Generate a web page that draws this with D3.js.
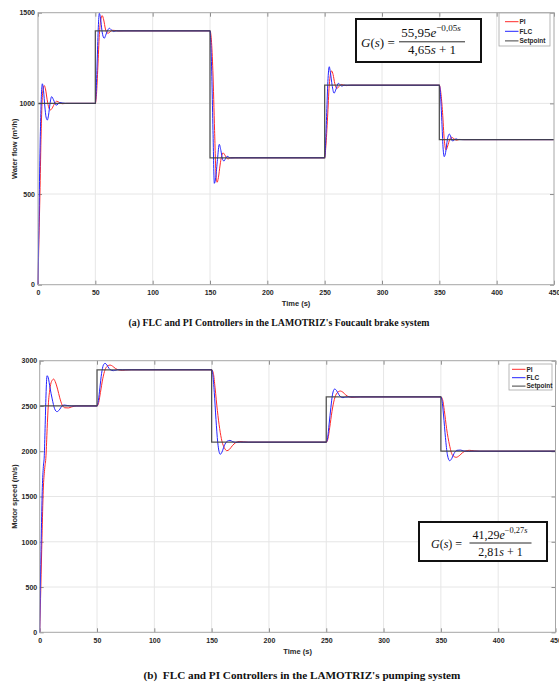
<!DOCTYPE html>
<html>
<head>
<meta charset="utf-8">
<script src="https://cdn.jsdelivr.net/npm/d3@7"></script>
<style>
  body { margin: 0; background: #fff; }
  svg { display: block; }
</style>
</head>
<body>
<script>
// ---- data ----
const timeTicks = [0, 50, 100, 150, 200, 250, 300, 350, 400, 450];
const flowTicks = [0, 500, 1000, 1500];
const speedTicks = [0, 500, 1000, 1500, 2000, 2500, 3000];

// (a) water flow, m3/h
const flowSetpoint = [[0, 1000], [50, 1400], [150, 700], [250, 1100], [350, 800], [450, 800]];
const flowPI = [
  [0, 0], [0.8, 250], [1.7, 500], [2.6, 800], [3.5, 1000], [4.5, 1080], [5.5, 1098], [6.5, 1080],
  [8, 1020], [9.5, 975], [11, 964], [12.5, 975], [14.5, 1000], [16.3, 1012], [18.5, 1005], [21, 998],
  [25, 1000], [50, 1000],
  [51, 1050], [52.2, 1200], [53.5, 1380], [54.7, 1460], [56, 1484], [57.3, 1460], [58.8, 1410],
  [60, 1390], [61.3, 1387], [63, 1395], [65, 1403], [67, 1402], [70, 1399], [75, 1400], [150, 1400],
  [151.2, 1350], [152.5, 1180], [154, 850], [155.3, 600], [156.2, 565], [157.3, 590], [158.8, 660],
  [160, 705], [161.3, 727], [163, 715], [164.5, 698], [166, 694], [168, 700], [175, 700], [250, 700],
  [251, 760], [252.5, 920], [254, 1100], [255, 1160], [256.1, 1179], [257.3, 1160], [258.8, 1110],
  [260.5, 1083], [262.5, 1092], [264.5, 1104], [266.5, 1101], [269, 1098], [273, 1100], [350, 1100],
  [351.3, 1060], [352.8, 950], [354.3, 800], [355.8, 743], [357.3, 765], [359, 800], [360.8, 813],
  [362.5, 806], [365, 797], [367.5, 801], [372, 800], [450, 800]
];
const flowFLC = [
  [0, 0], [0.7, 300], [1.5, 650], [2.3, 900], [3, 1050], [3.8, 1108], [4.8, 1070], [6, 980],
  [7, 925], [8.1, 908], [9.2, 935], [10.5, 1000], [11.9, 1037], [13.5, 1020], [15.7, 990],
  [17.5, 996], [19, 1005], [21, 1002], [24, 1000], [50, 1000],
  [50.8, 1080], [51.7, 1250], [52.6, 1420], [53.5, 1497], [54.5, 1470], [55.8, 1400], [57, 1365],
  [57.8, 1359], [59, 1375], [60.5, 1400], [62.2, 1414], [64, 1405], [66, 1396], [68, 1400], [150, 1400],
  [150.8, 1320], [151.7, 1120], [152.6, 850], [153.8, 559], [155, 590], [156.5, 690], [158.1, 774],
  [159.5, 740], [161, 690], [162.2, 682], [163.5, 695], [165, 708], [166.5, 703], [168, 699],
  [172, 700], [250, 700],
  [250.8, 780], [251.8, 950], [252.8, 1120], [254, 1202], [255, 1170], [256.5, 1100], [258.2, 1056],
  [260, 1080], [262, 1111], [263.5, 1102], [265, 1095], [267, 1100], [270, 1100], [350, 1100],
  [351, 1050], [352.2, 900], [353.2, 760], [354.3, 706], [355.5, 730], [357, 800], [358.7, 831],
  [360, 815], [361.3, 793], [363, 797], [364.5, 805], [366, 801], [370, 800], [450, 800]
];

// (b) motor speed
const speedSetpoint = [[0, 2500], [50, 2900], [150, 2100], [250, 2600], [350, 2000], [450, 2000]];
const speedPI = [
  [0, 0], [1, 500], [2, 1050], [3.1, 1570], [4.3, 1800], [5.5, 1950], [6.5, 2250], [7.5, 2510],
  [8.8, 2680], [10.3, 2770], [12.2, 2797], [13.5, 2770], [15.6, 2686], [17.5, 2590], [19.6, 2510],
  [22, 2480], [25, 2478], [28, 2490], [32, 2500], [50, 2500],
  [51.5, 2540], [53, 2650], [55, 2800], [57, 2900], [59, 2940], [61.4, 2952], [63.5, 2940],
  [66, 2915], [69, 2898], [72, 2894], [75, 2897], [80, 2900], [150, 2900],
  [151.5, 2860], [153, 2700], [155, 2450], [157, 2250], [159, 2110], [161, 2040], [163.3, 2006],
  [165.5, 2020], [168, 2060], [171, 2095], [174, 2108], [178, 2104], [182, 2100], [250, 2100],
  [251.5, 2140], [253, 2260], [255, 2440], [257, 2570], [259.5, 2645], [262.3, 2665], [264.5, 2652],
  [267, 2622], [270, 2600], [272.5, 2595], [276, 2598], [280, 2600], [350, 2600],
  [351.5, 2570], [353, 2450], [355, 2250], [357.5, 2070], [360, 1960], [363.3, 1933], [366, 1950],
  [369, 1985], [372, 2005], [375, 2010], [379, 2004], [384, 2000], [450, 2000]
];
const speedFLC = [
  [0, 0], [0.7, 600], [1.5, 1150], [2.3, 1600], [3.2, 1830], [4, 1950], [4.7, 2250], [5.5, 2620],
  [6.4, 2834], [7.5, 2810], [9, 2700], [10.9, 2578], [13, 2470], [15.1, 2437], [17, 2455],
  [19.5, 2500], [21.5, 2510], [24, 2505], [28, 2500], [50, 2500],
  [51.2, 2560], [52.5, 2700], [54, 2860], [55.5, 2950], [57, 2971], [58.5, 2955], [60.5, 2915],
  [62.5, 2893], [64.3, 2890], [66.5, 2896], [69, 2901], [72, 2900], [150, 2900],
  [151, 2850], [152.3, 2650], [153.8, 2350], [155.3, 2100], [156.5, 1995], [157.5, 1966], [159, 1990],
  [161, 2060], [163.5, 2110], [166, 2120], [168.5, 2105], [171, 2098], [175, 2100], [250, 2100],
  [251.2, 2150], [252.5, 2300], [254, 2480], [255.5, 2630], [257.3, 2687], [259, 2670], [261, 2625],
  [263, 2597], [264.6, 2592], [267, 2598], [270, 2601], [275, 2600], [350, 2600],
  [351, 2560], [352.3, 2400], [354, 2150], [355.7, 1960], [357.7, 1895], [359.5, 1920], [361.5, 1975],
  [364, 2010], [367, 2013], [370, 2003], [374, 1998], [378, 2000], [450, 2000]
];

const legendLabels = ["PI", "FLC", "Setpoint"];
const seriesColors = ["#ff2a2a", "#2424ff", "#404040"];

const W = 559, H = 684;
const svg = d3.select("body").append("svg").attr("width", W).attr("height", H);
svg.append("rect").attr("width", W).attr("height", H).attr("fill", "#fff");

function drawPanel(p) {
    const x = d3.scaleLinear().domain([0, 450]).range([p.left, p.right]);
    const y = d3.scaleLinear().domain([0, p.yTicks[p.yTicks.length - 1]]).range([p.bottom, p.top]);
    const g = svg.append("g");
    const fmt = d3.format("d");

    // grid
    g.append("g").selectAll("line").data(timeTicks.slice(1, -1)).join("line")
        .attr("x1", d => x(d)).attr("x2", d => x(d))
        .attr("y1", p.top).attr("y2", p.bottom)
        .attr("stroke", "#e6e6e6");
    g.append("g").selectAll("line").data(p.yTicks.slice(1, -1)).join("line")
        .attr("x1", p.left).attr("x2", p.right)
        .attr("y1", d => y(d)).attr("y2", d => y(d))
        .attr("stroke", "#e6e6e6");

    // axes, ticks pointing inward like matlab
    const styleAxis = sel => {
        sel.select(".domain").remove();
        sel.selectAll("line").attr("stroke", "#8c8c8c");
        sel.selectAll("text").attr("fill", "#262626");
        sel.attr("font-family", "'Liberation Sans', Arial, sans-serif")
            .attr("font-size", 7).attr("font-weight", "bold");
    };
    g.append("g").attr("transform", `translate(0,${p.bottom})`)
        .call(d3.axisBottom(x).tickValues(timeTicks).tickFormat(fmt).tickSize(-4).tickPadding(p.xPad))
        .call(styleAxis);
    g.append("g").attr("transform", `translate(0,${p.top})`)
        .call(d3.axisTop(x).tickValues(timeTicks).tickSize(-4).tickFormat(""))
        .call(styleAxis);
    g.append("g").attr("transform", `translate(${p.left},0)`)
        .call(d3.axisLeft(y).tickValues(p.yTicks).tickFormat(fmt).tickSize(-4).tickPadding(p.yPad))
        .call(styleAxis);
    g.append("g").attr("transform", `translate(${p.right},0)`)
        .call(d3.axisRight(y).tickValues(p.yTicks).tickSize(-4).tickFormat(""))
        .call(styleAxis);

    // lines
    const resp = d3.line().x(d => x(d[0])).y(d => y(d[1])).curve(d3.curveMonotoneX);
    const step = d3.line().x(d => x(d[0])).y(d => y(d[1])).curve(d3.curveStepAfter);
    g.append("path").datum(p.pi).attr("d", resp)
        .attr("fill", "none").attr("stroke", seriesColors[0]).attr("stroke-width", 1);
    g.append("path").datum(p.flc).attr("d", resp)
        .attr("fill", "none").attr("stroke", seriesColors[1]).attr("stroke-width", 1);
    g.append("path").datum(p.setpoint).attr("d", step)
        .attr("fill", "none").attr("stroke", seriesColors[2]).attr("stroke-width", 1.25)
        .attr("stroke-opacity", 0.9);

    // box
    g.append("rect").attr("x", p.left).attr("y", p.top)
        .attr("width", p.right - p.left).attr("height", p.bottom - p.top)
        .attr("fill", "none").attr("stroke", "#a6a6a6").attr("stroke-width", 1);

    // axis titles
    const lab = { "font-family": "'Liberation Sans', Arial, sans-serif", "font-size": 7.5, "font-weight": "bold", "fill": "#262626" };
    const xt = g.append("text").attr("x", (p.left + p.right) / 2).attr("y", p.xTitleY)
        .attr("text-anchor", "middle").text("Time (s)");
    const yt = g.append("text").attr("text-anchor", "middle")
        .attr("transform", `translate(${p.yTitleX},${(p.top + p.bottom) / 2}) rotate(-90)`)
        .text(p.yTitle);
    for (const k in lab) { xt.attr(k, lab[k]); yt.attr(k, lab[k]); }

    // legend
    const lg = g.append("g");
    lg.append("rect").attr("x", p.legend.x).attr("y", p.legend.y)
        .attr("width", p.legend.w).attr("height", p.legend.h)
        .attr("fill", "#fff").attr("stroke", "#a6a6a6").attr("stroke-width", 0.8);
    legendLabels.forEach((name, i) => {
        const yy = p.legend.y + p.legend.first + i * p.legend.gap;
        lg.append("line").attr("x1", p.legend.lx1).attr("x2", p.legend.lx2)
            .attr("y1", yy).attr("y2", yy).attr("stroke", seriesColors[i]).attr("stroke-width", 1);
        lg.append("text").attr("x", p.legend.lx2 + 1).attr("y", yy + 2.2)
            .attr("font-family", "'Liberation Sans', Arial, sans-serif")
            .attr("font-size", 6.5).attr("font-weight", "bold").attr("fill", "#262626")
            .text(name);
    });

    // transfer function box
    const f = p.formula;
    const fg = g.append("g").attr("font-family", "'Liberation Serif', 'Times New Roman', serif").attr("fill", "#111");
    fg.append("rect").attr("x", f.x).attr("y", f.y).attr("width", f.w).attr("height", f.h)
        .attr("fill", "#fff").attr("stroke", "#111").attr("stroke-width", 2);
    const gs = fg.append("text").attr("x", f.gx).attr("y", f.gy).attr("font-size", f.size);
    gs.append("tspan").attr("font-style", "italic").text("G");
    gs.append("tspan").text("(");
    gs.append("tspan").attr("font-style", "italic").text("s");
    gs.append("tspan").text(") =");
    const num = fg.append("text").attr("x", f.cx).attr("y", f.numY).attr("font-size", f.size)
        .attr("text-anchor", "middle");
    num.append("tspan").text(f.gain);
    num.append("tspan").attr("font-style", "italic").text("e");
    num.append("tspan").attr("font-size", f.size * 0.7).attr("dy", -f.size * 0.42).text(f.delay);
    num.append("tspan").attr("font-size", f.size * 0.7).attr("font-style", "italic").text("s");
    fg.append("line").attr("x1", f.lx1).attr("x2", f.lx2).attr("y1", f.lineY).attr("y2", f.lineY)
        .attr("stroke", "#111").attr("stroke-width", 0.9);
    const den = fg.append("text").attr("x", (f.lx1 + f.lx2) / 2).attr("y", f.denY).attr("font-size", f.size)
        .attr("text-anchor", "middle");
    den.append("tspan").text(f.tau);
    den.append("tspan").attr("font-style", "italic").text("s");
    den.append("tspan").text(" + 1");

    // caption
    svg.append("text").attr("x", p.captionX).attr("y", p.captionY)
        .attr("text-anchor", "middle")
        .attr("font-family", "'Liberation Serif', 'Times New Roman', serif")
        .attr("font-size", p.captionSize).attr("font-weight", "bold").attr("fill", "#111")
        .attr("xml:space", "preserve").style("white-space", "pre")
        .text(p.caption);
}

drawPanel({
    left: 38, right: 554, top: 12.7, bottom: 284.7,
    yTicks: flowTicks, xPad: 5, yPad: 3,
    pi: flowPI, flc: flowFLC, setpoint: flowSetpoint,
    yTitle: "Water flow (m³/h)", yTitleX: 17, xTitleY: 305.5,
    legend: { x: 499, y: 13, w: 51, h: 33, first: 8.7, gap: 9.6, lx1: 505, lx2: 518.5 },
    formula: { x: 356, y: 19, w: 125, h: 43, size: 13, gx: 361, gy: 46.5,
        cx: 431, numY: 36.5, lx1: 399, lx2: 465, lineY: 41.8, denY: 53.8,
        gain: "55,95", delay: "−0,05", tau: "4,65" },
    caption: "(a) FLC and PI Controllers in the LAMOTRIZ's Foucault brake system",
    captionX: 279, captionY: 325.5, captionSize: 9.8
});

drawPanel({
    left: 39.7, right: 555.5, top: 360.7, bottom: 632.3,
    yTicks: speedTicks, xPad: 6, yPad: 2.5,
    pi: speedPI, flc: speedFLC, setpoint: speedSetpoint,
    yTitle: "Motor speed (m/s)", yTitleX: 17, xTitleY: 653.5,
    legend: { x: 509, y: 364, w: 43, h: 26, first: 5.3, gap: 8.4, lx1: 512, lx2: 525.5 },
    formula: { x: 419, y: 522, w: 128, h: 39, size: 12, gx: 431, gy: 547.5,
        cx: 500, numY: 538.5, lx1: 469.5, lx2: 531.5, lineY: 543, denY: 555.8,
        gain: "41,29", delay: "−0,27", tau: "2,81" },
    caption: "(b)  FLC and PI Controllers in the LAMOTRIZ's pumping system",
    captionX: 302, captionY: 678.5, captionSize: 11.2
});
</script>
</body>
</html>
